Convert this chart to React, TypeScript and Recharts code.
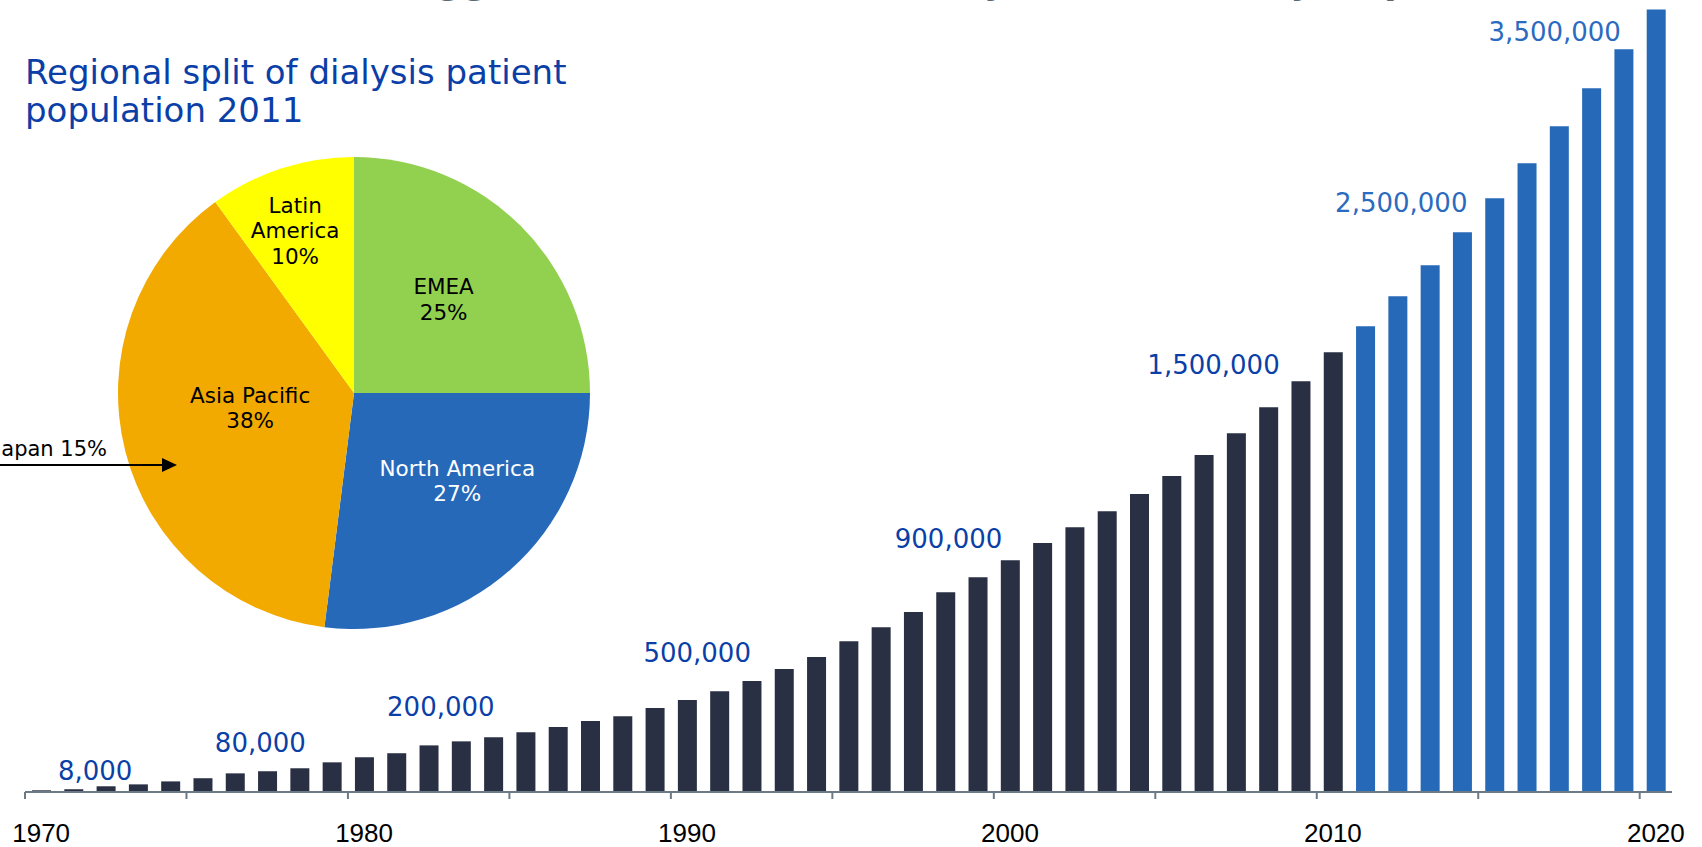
import { BarChart, Bar, XAxis, YAxis, Cell, LabelList, PieChart, Pie } from 'recharts'

// dialysis patients worldwide, one bar per year (2011 onwards = projection)
const years = [
  1970, 1971, 1972, 1973, 1974, 1975, 1976, 1977, 1978, 1979,
  1980, 1981, 1982, 1983, 1984, 1985, 1986, 1987, 1988, 1989,
  1990, 1991, 1992, 1993, 1994, 1995, 1996, 1997, 1998, 1999,
  2000, 2001, 2002, 2003, 2004, 2005, 2006, 2007, 2008, 2009,
  2010, 2011, 2012, 2013, 2014, 2015, 2016, 2017, 2018, 2019,
  2020,
]
const patients = [
  8000, 13000, 27000, 36000, 50000, 65000, 88000, 98000, 112000, 140000,
  164000, 183000, 220000, 239000, 258000, 282000, 307000, 335000, 358000, 396000,
  434000, 476000, 524000, 580000, 637000, 712000, 778000, 849000, 943000, 1014000,
  1094000, 1175000, 1250000, 1325000, 1406000, 1491000, 1590000, 1693000, 1816000, 1939000,
  2075000, 2198000, 2340000, 2486000, 2642000, 2802000, 2967000, 3142000, 3321000, 3505000,
  3693000,
]
const firstProjectedYear = 2011

// milestone call-outs and the bar each one sits on
const noteYears = [1973, 1978, 1984, 1992, 2000, 2008, 2014, 2019]
const noteLabels = ['8,000', '80,000', '200,000', '500,000', '900,000', '1,500,000', '2,500,000', '3,500,000']

// pie: regional split 2011
const regions = ['EMEA', 'North America', 'Asia Pacific', 'Latin America']
const regionShares = [25, 27, 38, 10]
const regionLines = [['EMEA'], ['North America'], ['Asia Pacific'], ['Latin', 'America']]

const DARK = '#2a3043'
const BLUE = '#2769b9'
const NOTE_DARK = '#0b3fa8'
const NOTE_LIGHT = '#2a6bbf'
const AXIS = '#6c7a85'
const sliceColors = ['#92d050', '#2769b9', '#f2a900', '#ffff00']
const sliceText = ['#000', '#fff', '#000', '#000']

const W = 1702
const H = 847
const M = { top: 8, right: 30, left: 25, bottom: 0 }
const band = (W - M.left - M.right) / years.length

// nudges for call-out text: [dx of right edge, lift above bar top]
const noteNudge: Record<number, [number, number]> = {
  1973: [-6, 4], 1978: [6, 16], 1984: [1, 21], 1992: [-1, 19],
  2000: [-8, 12], 2008: [11, 33], 2014: [5, 20], 2019: [-3, 8],
}
// pie label placement: [distance from centre, angle nudge in degrees]
const labelPlace: [number, number][] = [[129, 1], [136, 8], [105, -6], [172, 2]]

const data = years.map((year, i) => {
  const n = noteYears.indexOf(year)
  return { year, patients: patients[i], note: n >= 0 ? noteLabels[n] : '' }
})
const pieData = regions.map((name, i) => ({ name, value: regionShares[i] }))

function YearTick(props: any) {
  const { x, y, payload } = props
  const yr = Number(payload.value)
  if (yr % 5 !== 0) return <g />
  return (
    <g>
      <line x1={x - band / 2} x2={x - band / 2} y1={y} y2={y + 7} stroke={AXIS} strokeWidth={2} />
      {yr % 10 === 0 && (
        <text x={x} y={y + 50} textAnchor="middle" fontFamily="'Liberation Sans', Arial" fontSize={26} fill="#000">
          {yr}
        </text>
      )}
    </g>
  )
}

function Note(props: any) {
  const { x, y, width, value, index } = props
  if (!value) return null
  const year = data[index].year
  const [dx, lift] = noteNudge[year] || [0, 16]
  return (
    <text
      x={x + width / 2 + dx}
      y={y - lift}
      textAnchor="end"
      fontFamily="'DejaVu Sans', Verdana"
      fontSize={26}
      fill={year >= firstProjectedYear ? NOTE_LIGHT : NOTE_DARK}
    >
      {value}
    </text>
  )
}

const RAD = Math.PI / 180
function SliceLabel(props: any) {
  const { cx, cy, midAngle, index } = props
  const [r, nudge] = labelPlace[index]
  const a = (midAngle + nudge) * RAD
  const x = cx + r * Math.cos(-a)
  const y = cy + r * Math.sin(-a)
  const lines = [...regionLines[index], `${regionShares[index]}%`]
  const lh = 25.5
  const y0 = y - ((lines.length - 1) * lh) / 2 + 7
  return (
    <text textAnchor="middle" fontFamily="'DejaVu Sans', Verdana" fontSize={21.5} fill={sliceText[index]}>
      {lines.map((t, i) => (
        <tspan key={i} x={x} y={y0 + i * lh}>
          {t}
        </tspan>
      ))}
    </text>
  )
}

export default function App() {
  return (
    <div style={{ position: 'absolute', left: 0, top: 0, width: W, height: H, background: '#fff', overflow: 'hidden' }}>
      <div style={{ position: 'absolute', left: 0, top: 0 }}>
        <BarChart width={W} height={H} data={data} margin={M}>
          <YAxis hide domain={[0, 3700000]} />
          <XAxis
            dataKey="year"
            interval={0}
            tickLine={false}
            tickSize={0}
            tickMargin={0}
            height={55}
            axisLine={{ stroke: AXIS, strokeWidth: 2 }}
            tick={YearTick}
          />
          <Bar dataKey="patients" barSize={19} isAnimationActive={false}>
            {data.map((d) => (
              <Cell key={d.year} fill={d.year >= firstProjectedYear ? BLUE : DARK} />
            ))}
            <LabelList dataKey="note" content={Note} />
          </Bar>
        </BarChart>
      </div>

      <div style={{ position: 'absolute', left: 114, top: 153 }}>
        <PieChart width={480} height={480} margin={{ top: 0, right: 0, bottom: 0, left: 0 }}>
          <Pie
            data={pieData}
            dataKey="value"
            cx={240}
            cy={240}
            outerRadius={236}
            startAngle={90}
            endAngle={-270}
            stroke="none"
            label={SliceLabel}
            labelLine={false}
            isAnimationActive={false}
          >
            {pieData.map((d, i) => (
              <Cell key={d.name} fill={sliceColors[i]} />
            ))}
          </Pie>
        </PieChart>
      </div>

      <svg width={W} height={H} style={{ position: 'absolute', left: 0, top: 0, pointerEvents: 'none' }}>
        <text x={10} y={-7} fontFamily="'DejaVu Sans', Verdana" fontWeight="bold" fontSize={37} fill="#5d6971">
          Market estimates suggest an increase to nearly 4 million dialysis patients
        </text>
        <text fontFamily="'DejaVu Sans', Verdana" fontSize={34} fill={NOTE_DARK}>
          <tspan x={25} y={84}>Regional split of dialysis patient</tspan>
          <tspan x={25} y={122}>population 2011</tspan>
        </text>
        <text x={107} y={456} textAnchor="end" fontFamily="'DejaVu Sans', Verdana" fontSize={21} fill="#000">
          Japan 15%
        </text>
        <line x1={0} y1={465} x2={164} y2={465} stroke="#000" strokeWidth={2} />
        <polygon points="162,458 177,465 162,472" fill="#000" />
      </svg>
    </div>
  )
}
